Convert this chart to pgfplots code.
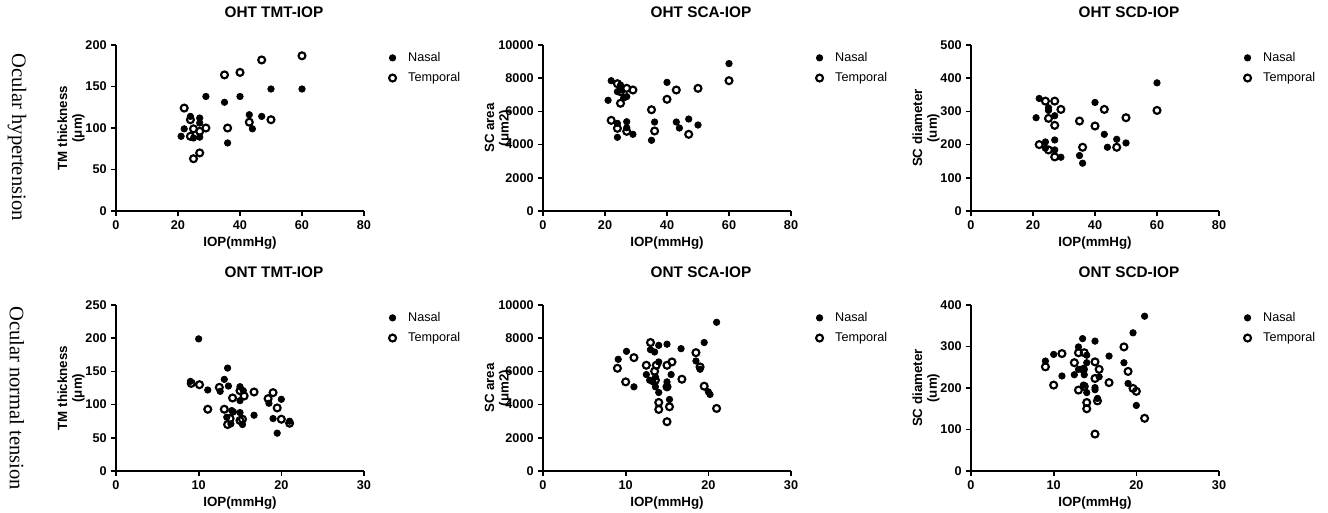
\documentclass[border=0pt]{standalone}
\usepackage{fontspec}
\setmainfont{Liberation Sans}
\newfontfamily\serif{Liberation Serif}
\usepackage{pgfplots}
\pgfplotsset{compat=1.18}

\pgfplotsset{
  gp/.style={
    scale only axis, width=186pt, height=124.5pt,
    axis lines=left, axis line style={-, line width=1.25pt},
    tick align=outside, major tick length=3.5pt,
    tick style={line width=1.25pt, black},
    clip=false, xmin=0, ymin=0,
    scaled y ticks=false,
    tick label style={font=\bfseries\fontsize{9.5}{10}\selectfont},
    /pgf/number format/assume math mode=true,
    /pgf/number format/1000 sep={},
    label style={font=\bfseries\fontsize{10}{11}\selectfont},
    xlabel={IOP(mmHg)},
    xlabel style={at={(axis description cs:0.5,-0.193)}, anchor=center},
    ylabel style={at={(axis description cs:-0.181,0.5)}, anchor=center, rotate=0, align=center},
    title style={at={(axis description cs:0.637,1.151)}, anchor=center,
      font=\bfseries\fontsize{11.5}{13}\selectfont},
    legend style={at={(axis description cs:1.084,0.99)}, anchor=north west,
      draw=none, fill=none, font=\fontsize{9.5}{11}\selectfont,
      row sep=2.75pt},
    legend cell align=left,
    legend image code/.code={\node[inner sep=0pt, outer sep=0pt, draw=none, fill=none] at (8.7pt,0pt) {};
      \draw[#1] plot coordinates {(0pt,0pt)};},
  },
  nasal/.style={only marks, mark=*, mark size=2.4pt, line width=0.6pt, black, fill=black},
  temporal/.style={only marks, mark=o, mark size=2.6pt, line width=1.6pt, black},
}

\begin{document}
\begin{tikzpicture}
\useasboundingbox (0,0) rectangle (996pt,-384pt);

\node[rotate=-90, font=\serif\fontsize{15.4}{18}\selectfont] at (12.75pt,-102.75pt) {Ocular hypertension};
\node[rotate=-90, font=\serif\fontsize{15.4}{18}\selectfont] at (12.75pt,-298.5pt) {Ocular normal tension};

% ---- OHT TMT-IOP
\begin{axis}[gp, at={(87pt,-158.25pt)}, anchor=south west,
  xmax=80, ymax=200, xtick={0,20,40,60,80}, ytick={0,50,100,150,200},
  title={OHT TMT-IOP}, ylabel={TM thickness\\(μm)}]
\addplot[nasal] coordinates {(21,90)(22,99)(24,114)(27,112)(27,106)(25,88)(27,89)(29,138)(35,131)(40,138)(36,82)(43,116)(44,99)(47,114)(50,147)(60,147)};
\addplot[temporal] coordinates {(22,124)(24,110)(25,99)(27,96)(29,100)(24,90)(25,63)(27,70)(35,164)(40,167)(47,182)(60,187)(36,100)(43,107)(50,110)};
\legend{Nasal,Temporal}
\end{axis}

% ---- OHT SCA-IOP
\begin{axis}[gp, at={(407.25pt,-158.25pt)}, anchor=south west,
  xmax=80, ymax=10000, xtick={0,20,40,60,80}, ytick={0,2000,4000,6000,8000,10000},
  title={OHT SCA-IOP}, ylabel={SC area\\(μm2)}]
\addplot[nasal] coordinates {(22,7850)(21,6670)(25,7590)(24,7190)(25,7300)(27,6890)(26,6800)(24,5280)(27,5380)(27,5020)(24,4440)(29,4620)(35,4260)(36,5360)(40,7750)(43,5360)(44,5000)(47,5540)(50,5180)(60,8880)};
\addplot[temporal] coordinates {(24,7670)(27,7390)(29,7290)(25,7190)(25,6490)(22,5460)(24,4980)(27,4800)(35,6100)(36,4820)(40,6730)(43,7290)(47,4620)(50,7390)(60,7850)};
\legend{Nasal,Temporal}
\end{axis}

% ---- OHT SCD-IOP
\begin{axis}[gp, at={(728.25pt,-158.25pt)}, anchor=south west,
  xmax=80, ymax=500, xtick={0,20,40,60,80}, ytick={0,100,200,300,400,500},
  title={OHT SCD-IOP}, ylabel={SC diameter\\(um)}]
\addplot[nasal] coordinates {(22,339)(21,281)(25,311)(25,303)(27,287)(24,208)(27,214)(24,189)(27,184)(29,162)(35,167)(36,144)(40,327)(43,231)(44,192)(47,216)(50,205)(60,386)};
\addplot[temporal] coordinates {(24,331)(27,331)(29,306)(25,279)(27,258)(22,200)(25,184)(27,163)(35,271)(36,192)(40,256)(43,306)(47,192)(50,281)(60,303)};
\legend{Nasal,Temporal}
\end{axis}

% ---- ONT TMT-IOP
\begin{axis}[gp, at={(87pt,-353.25pt)}, anchor=south west,
  xmax=30, ymax=250, xtick={0,10,20,30}, ytick={0,50,100,150,200,250},
  title={ONT TMT-IOP}, ylabel={TM thickness\\(μm)}]
\addplot[nasal] coordinates {(10,199)(9,135)(11.1,122)(12.6,120)(13.1,138)(13.5,155)(13.6,128)(15,127)(15.4,121)(15,106)(14,91)(14.2,89)(15,88)(13.4,81)(13.9,71)(15.3,70)(16.7,84)(18.5,102)(20,108)(19,79)(19.5,57)(21,75)};
\addplot[temporal] coordinates {(9.1,132)(10.1,130)(11.1,93)(12.5,126)(13.1,93)(14.1,110)(13.5,70)(13.8,79)(15,76)(15.3,78)(15.5,113)(15,121)(16.7,119)(18.4,109)(19,118)(19.5,95)(20,78)(21,72)};
\legend{Nasal,Temporal}
\end{axis}

% ---- ONT SCA-IOP
\begin{axis}[gp, at={(407.25pt,-353.25pt)}, anchor=south west,
  xmax=30, ymax=10000, xtick={0,10,20,30}, ytick={0,2000,4000,6000,8000,10000},
  title={ONT SCA-IOP}, ylabel={SC area\\(μm2)}]
\addplot[nasal] coordinates {(9.1,6730)(10.1,7210)(11,5070)(12.5,5810)(12.9,5470)(13,7310)(13.5,7170)(13.3,5370)(13.6,5070)(14,6570)(14,7570)(13.6,5670)(14,4730)(15,7640)(15,5370)(15,5070)(15.5,5810)(15.3,4310)(16.7,7370)(18.5,6630)(19,6130)(19.5,7740)(20,4770)(20.2,4610)(21,8960)};
\addplot[temporal] coordinates {(9,6190)(10,5370)(11,6830)(12.5,6370)(13,7740)(13.5,6010)(13.7,6370)(13.6,5470)(14,4130)(14,3710)(15,6370)(15.6,6570)(15,5070)(15.3,3870)(15,2970)(16.8,5530)(18.5,7130)(19,6270)(19.5,5110)(21,3770)};
\legend{Nasal,Temporal}
\end{axis}

% ---- ONT SCD-IOP
\begin{axis}[gp, at={(728.25pt,-353.25pt)}, anchor=south west,
  xmax=30, ymax=400, xtick={0,10,20,30}, ytick={0,100,200,300,400},
  title={ONT SCD-IOP}, ylabel={SC diameter\\(um)}]
\addplot[nasal] coordinates {(9,265)(10,281)(11,229)(12.5,232)(13,299)(13.5,319)(13,245)(13.6,243)(13.7,232)(14,279)(14,261)(13.6,207)(14,189)(15,313)(15,201)(15,196)(15.5,227)(15.3,175)(16.7,277)(18.5,261)(19,211)(19.6,333)(20,158)(21,373)};
\addplot[temporal] coordinates {(9,251)(10,207)(11,283)(12.5,261)(13,285)(13.7,285)(13.6,245)(13,195)(13.7,204)(14,165)(14,150)(15,263)(15.5,245)(15,223)(15.3,169)(15,89)(16.7,213)(18.5,299)(19,240)(19.6,199)(20,192)(21,127)};
\legend{Nasal,Temporal}
\end{axis}
\end{tikzpicture}
\end{document}
